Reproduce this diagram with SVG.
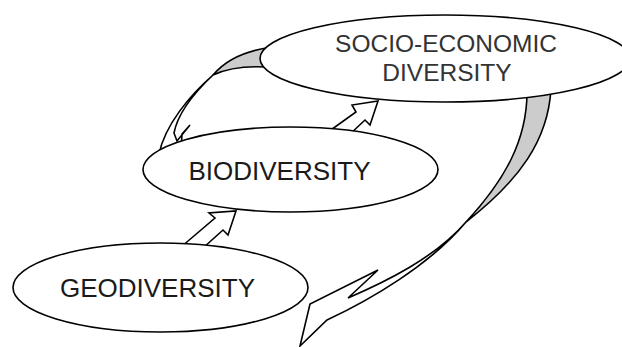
<svg xmlns="http://www.w3.org/2000/svg" width="622" height="347" viewBox="0 0 622 347">
<style>
.node{fill:#fff;stroke:#000;stroke-width:1.6}
.lbl{font-family:"Liberation Sans",Arial,sans-serif;text-anchor:middle;fill:#1a1a1a}
.soc{fill:#333}
.band{fill:#fff;stroke:#000;stroke-width:1.6;stroke-linejoin:miter}
.back{fill:#cccccc;stroke:#000;stroke-width:1.6}
</style>
<rect width="622" height="347" fill="#fff"/>
<g id="connectors">
<polygon class="band" points="181,247 215,218 209,213 236,211 228,235 223,230 203,248"/>
<polygon class="band" points="328,132 356,112 352,105 378,101 370,125 365,120 349,135"/>
<path class="back" d="M266,48 C242,52 224,62 213,75 C228,68 246,66 266,67 Z"/>
<path class="band" d="M213,75 C195,92 178,112 174,133 L177,141 L190,125 L182,134 L181,152 L159,154 C165,125 190,95 213,75 Z"/>
<path class="back" d="M527,92 C527,140 505,180 466,222 C520,180 548,140 551,89 Z"/>
<path class="band" d="M466,222 C430,265 370,300 327,320 L300,346 L310,304 L378,270 L348,298 C385,282 435,258 466,222 Z"/>
</g>
<g id="socio">
<ellipse class="node" cx="445" cy="58.5" rx="185" ry="43.5"/>
<text class="lbl soc" x="446" y="52" font-size="24.5">SOCIO-ECONOMIC</text>
<text class="lbl soc" x="447" y="81" font-size="24.5">DIVERSITY</text>
</g>
<g id="bio">
<ellipse class="node" cx="290.5" cy="169.5" rx="147.5" ry="42.5"/>
<text class="lbl" x="279.5" y="180" font-size="26">BIODIVERSITY</text>
</g>
<g id="geo">
<ellipse class="node" cx="160.5" cy="287.5" rx="147.5" ry="44.5"/>
<text class="lbl" x="157.5" y="297" font-size="26">GEODIVERSITY</text>
</g>
</svg>
